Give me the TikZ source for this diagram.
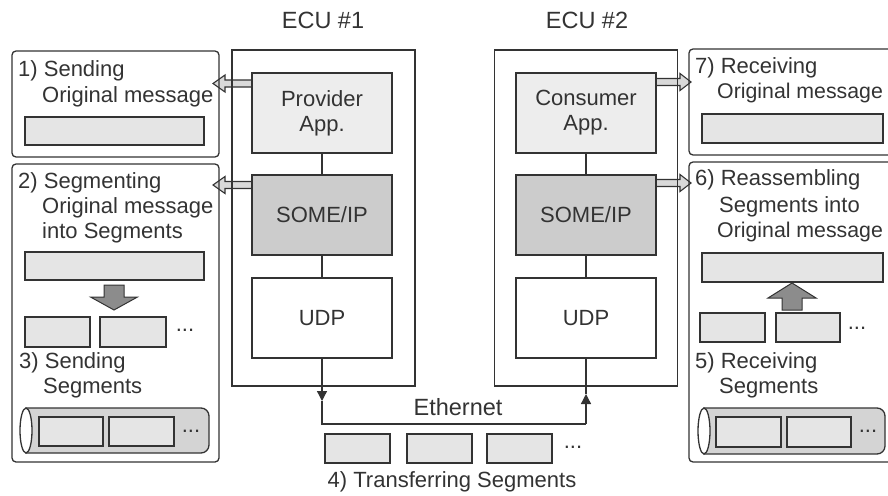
\documentclass[tikz,border=0pt]{standalone}
\usepackage{fontspec}
\setmainfont{Liberation Sans}
\usetikzlibrary{arrows.meta}
\definecolor{ink}{HTML}{333333}
\begin{document}
\begin{tikzpicture}[x=1pt,y=-1pt,
  txt/.style={font=\fontsize{22}{25}\selectfont, text=ink, inner sep=0pt},
  big/.style={txt, font=\fontsize{23.5}{26}\selectfont},
  lbl/.style={txt, anchor=west, text height=16pt, text depth=4.6pt},
  layer/.style={draw=ink, line width=1.3pt, minimum width=140pt, minimum height=80pt, txt, align=center},
  ecubox/.style={draw=ink, line width=1.3pt, minimum width=183pt, minimum height=336pt},
  panel/.style={draw=ink, line width=1.3pt, rounded corners=4pt},
  bar/.style={draw=ink, line width=1.3pt, fill=black!10},
  blk/.style={draw=ink, line width=1.1pt, fill=black!15},
  bigarr/.style={draw=ink, line width=1pt, fill=black!45},
  cyl/.style={draw=ink, line width=1.3pt, fill=black!17},
  dotsn/.style={txt, anchor=base},
  link/.style={draw=ink, line width=1.3pt},
]
\useasboundingbox (0,0) rectangle (888,495);

% block arrows (under boxes)
\draw[blk] (252,80)--(225,80)--(225,75)--(213,83.5)--(225,92)--(225,87)--(252,87)--cycle;
\draw[blk, shift={(0,101.5)}] (252,80)--(225,80)--(225,75)--(213,83.5)--(225,92)--(225,87)--(252,87)--cycle;
\draw[blk] (655,78.5)--(680,78.5)--(680,73.5)--(691,82)--(680,90.5)--(680,85.5)--(655,85.5)--cycle;
\draw[blk, shift={(0,101)}] (655,78.5)--(680,78.5)--(680,73.5)--(691,82)--(680,90.5)--(680,85.5)--(655,85.5)--cycle;

% ECU boxes
\node[ecubox] (ecu1) at (323.5,218) {};
\node[ecubox] (ecu2) at (586,218) {};
\node[big] (t1) at (323,20) {ECU \#1};
\node[big] (t2) at (587,20) {ECU \#2};

% layers
\node[layer, fill=black!7] (prov) at (322,113) {Provider\\App.};
\node[layer, fill=black!20] (some1) at (322,215) {SOME/IP};
\node[layer, fill=white] (udp1) at (322,318) {UDP};
\node[layer, fill=black!7] (cons) at (586,113) {Consumer\\App.};
\node[layer, fill=black!20] (some2) at (586,215) {SOME/IP};
\node[layer, fill=white] (udp2) at (586,318) {UDP};
\draw[link] (prov) -- (some1);
\draw[link] (some1) -- (udp1);
\draw[link] (cons) -- (some2);
\draw[link] (some2) -- (udp2);

% ethernet
\coordinate (aL) at (322,401);
\coordinate (eL) at (322,424);
\coordinate (eR) at (586,424);
\coordinate (aR) at (586,394);
\draw[link, -{Triangle[width=10pt,length=10pt]}] (udp1.south) -- (aL);
\draw[link] (aL) -- (eL) -- (eR);
\draw[link, -{Triangle[width=10pt,length=10pt]}] (eR) -- (aR);
\draw[link] (aR) -- (udp2.south);
\node[big] (eth) at (458,407) {Ethernet};
\draw[bar] (325,434) rectangle (390,463);
\draw[bar] (407,434) rectangle (472,463);
\draw[bar] (487,434) rectangle (552,463);
\node[dotsn] (d4) at (573,448) {...};
\node[txt] (l4) at (452,482) {4) Transferring Segments};

% left panels
\draw[panel] (12,51) rectangle (219,157);
\node[lbl] (l1a) at (18,71) {1) Sending};
\node[lbl] (l1b) at (42,97) {Original message};
\draw[bar] (25,117) rectangle (204,145);

\draw[panel] (12,164) rectangle (219,462);
\node[lbl] (l2a) at (18,183) {2) Segmenting};
\node[lbl] (l2b) at (42,208) {Original message};
\node[lbl] (l2c) at (42,233) {into Segments};
\draw[bar] (25,252) rectangle (204,280);
\draw[bigarr] (104,285)--(124,285)--(124,297)--(137.5,297)--(114,310)--(90.5,297)--(104,297)--cycle;
\draw[bar] (25,317) rectangle (90,347);
\draw[bar] (100,317) rectangle (166,347);
\node[dotsn] (d2) at (185,331) {...};
\node[lbl] (l3a) at (19,363) {3) Sending};
\node[lbl] (l3b) at (43,388) {Segments};
\draw[cyl] (26,408) -- (201,408) arc[start angle=90,end angle=0,radius=8pt] -- (209,445) arc[start angle=0,end angle=-90,radius=8pt] -- (26,453) -- cycle;
\draw[draw=ink, line width=1.3pt, fill=white] (26,430.5) ellipse[x radius=6pt, y radius=22.5pt];
\draw[bar] (39,417) rectangle (103,446);
\draw[bar] (109,417) rectangle (174,446);
\node[dotsn] (d3) at (191,432) {...};

% right panels
\draw[panel] (689,49) rectangle (905,155);
\node[lbl] (l7a) at (695,68) {7) Receiving};
\node[lbl, font=\fontsize{21.3}{25}\selectfont] (l7b) at (717,93) {Original message};
\draw[bar] (702,114) rectangle (883,143);

\draw[panel] (689,162) rectangle (905,462);
\node[lbl] (l6a) at (695,180) {6) Reassembling};
\node[lbl] (l6b) at (719,207) {Segments into};
\node[lbl, font=\fontsize{21.3}{25}\selectfont] (l6c) at (717,232) {Original message};
\draw[bar] (702,253) rectangle (883,282);
\draw[bigarr] (782,310)--(802,310)--(802,298)--(816,298)--(792,283)--(768,298)--(782,298)--cycle;
\draw[bar] (700,313) rectangle (765,342);
\draw[bar] (776,313) rectangle (840,342);
\node[dotsn] (d5) at (857,329) {...};
\node[lbl] (l5a) at (695,363) {5) Receiving};
\node[lbl] (l5b) at (719,388) {Segments};
\draw[cyl] (704,408) -- (877,408) arc[start angle=90,end angle=0,radius=8pt] -- (885,446) arc[start angle=0,end angle=-90,radius=8pt] -- (704,454) -- cycle;
\draw[draw=ink, line width=1.3pt, fill=white] (704,431) ellipse[x radius=6pt, y radius=23pt];
\draw[bar] (716,417) rectangle (781,447);
\draw[bar] (787,417) rectangle (851,447);
\node[dotsn] (d6) at (868,432) {...};
\end{tikzpicture}
\end{document}
